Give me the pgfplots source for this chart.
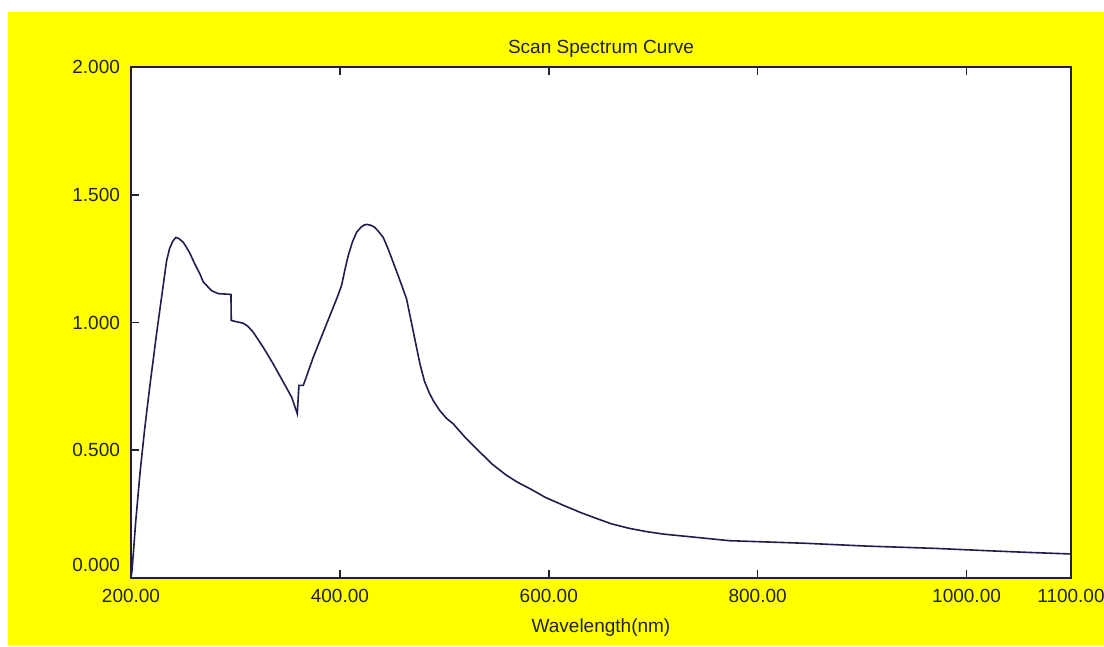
\documentclass[border=0pt]{standalone}
\usepackage{fontspec}
\setmainfont{Liberation Sans}
\usepackage{pgfplots}
\pgfplotsset{compat=1.18}
\definecolor{bgyellow}{RGB}{255,255,0}
\definecolor{curve}{RGB}{30,30,80}
\definecolor{ink}{RGB}{35,35,45}
\begin{document}
\begin{tikzpicture}[font=\fontsize{9.5}{11}\selectfont]
% canvas: 1 px = 0.5pt
\useasboundingbox (0,0) rectangle (552pt,-323.5pt);
\fill[white] (0,0) rectangle (552pt,-323.5pt);
\fill[bgyellow] (4pt,-6pt) rectangle (552pt,-322.5pt);
\begin{axis}[
    scale only axis,
    width=470pt, height=255.5pt,
    at={(65.5pt,-289pt)}, anchor=south west,
    axis background/.style={fill=white},
    axis line style={ink, line width=0.9pt},
    xmin=200, xmax=1100, ymin=0, ymax=2,
    xtick={200,400,600,800,1000,1100},
    xticklabels={200.00,400.00,600.00,800.00,1000.00,1100.00},
    ytick={0.5,1,1.5,2},
    yticklabels={0.500,1.000,1.500,2.000},
    extra y ticks={0},
    extra y tick labels={0.000},
    extra y tick style={yticklabel style={yshift=6.5pt}},
    tick align=inside,
    major tick length=4pt,
    tick style={ink, line width=0.8pt},
    ytick pos=left,
    xtick pos=both,
    xticklabel style={yshift=-2pt, text=ink},
    yticklabel style={xshift=-2pt, text=ink},
    title={Scan Spectrum Curve},
    title style={at={(0.5,1)}, anchor=base, yshift=0.5pt, text=ink},
    xlabel={Wavelength(nm)},
    xlabel style={at={(0.5,0)}, anchor=base, yshift=-27pt, text=ink},
]
\addplot[curve, line width=0.8pt] coordinates {
(200,0.00) (201,0.03) (204.5,0.22) (208.6,0.41) (213,0.58) (218,0.75)
(224.6,0.96) (231,1.15) (234,1.24) (237,1.29) (240,1.318) (243,1.333)
(246,1.328) (250,1.314) (253,1.295) (256.5,1.27)
(261,1.23) (266,1.19) (269,1.16) (272.4,1.145) (277,1.125) (283.5,1.113) (295.7,1.11) (296,1.008)
(307.5,0.997) (312,0.985) (317,0.962) (326.6,0.903) (336,0.839) (345.8,0.767)
(353.8,0.708) (359.2,0.643) (360.8,0.754) (365,0.754) (374.5,0.864)
(387.3,0.995) (397.5,1.099) (401.6,1.145) (405,1.21) (408,1.262) (412,1.315) (416,1.353)
(420,1.372) (423,1.381) (426,1.384) (430,1.380) (433.5,1.372) (437,1.356) (441.5,1.333)
(446,1.29) (451,1.236) (457,1.17) (463.8,1.093)
(470,0.97) (476.6,0.839) (481,0.77) (486,0.721) (490,0.69) (495.7,0.655) (502,0.625) (508.4,0.604)
(520,0.55) (534,0.493) (546,0.445)
(559.5,0.402) (570,0.375) (581.8,0.350) (597,0.315) (613.7,0.285) (630,0.257) (645.7,0.233) (660,0.212) (677.5,0.194)
(693,0.182) (709.4,0.172) (741.3,0.159) (773.2,0.146) (802,0.142) (845,0.136)
(904,0.125) (969.5,0.116) (1019,0.107) (1060,0.100) (1087,0.096)
(1100,0.094)
};
\node[anchor=west, text=ink] at (rel axis cs:-0.1223,0.466) {Abs};
\end{axis}
\end{tikzpicture}
\end{document}
